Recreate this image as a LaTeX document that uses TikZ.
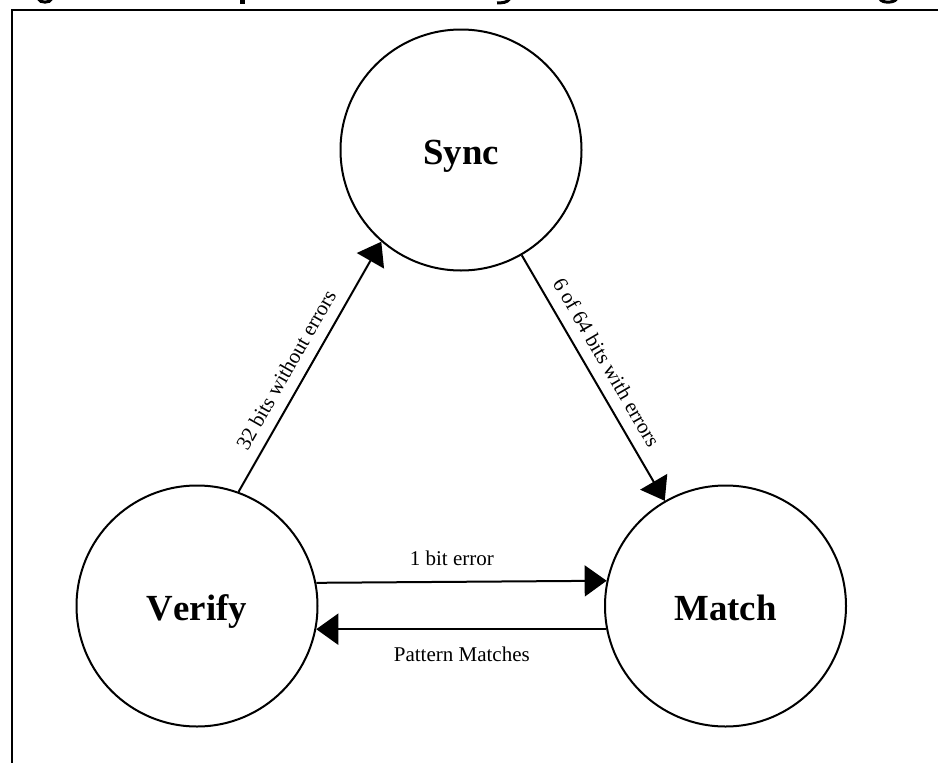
\documentclass[tikz,border=0pt]{standalone}
\usepackage{fontspec}
\setmainfont{Liberation Serif}
\newfontfamily\statefont[Kerning=Off]{Liberation Serif}
\usetikzlibrary{arrows.meta}
\newcommand{\lowerby}[2]{\raisebox{-#1}[\height][\depth]{#2}}
\begin{document}
\begin{tikzpicture}[x=1pt,y=-1pt,
  state/.style={draw, circle, line width=2pt, minimum size=241pt, inner sep=0pt,
    font=\statefont\fontsize{36.8}{40}\selectfont\bfseries},
  conn/.style={line width=2pt, -{Triangle[length=22pt,width=31pt]}},
  lbl/.style={inner sep=0pt, font=\fontsize{21}{24}\selectfont},
  frag/.style={fill=black, draw=none}]
\useasboundingbox (0,0) rectangle (938,763);
% frame (cut off at right and bottom)
\draw[line width=2pt] (12,763) -- (12,9.5) -- (938,9.5);
% title fragments (descenders of cut-off title)
\draw[line width=3pt] (38.5,-1) .. controls (40,3.2) and (50,3.2) .. (51.5,-1);
\fill[frag] (239.5,-1) rectangle (245,4.3);
\draw[line width=3pt] (509.5,-1) .. controls (507,2.5) and (503,3) .. (497,2.8);
\draw[line width=3pt] (880,-1) .. controls (882,3.2) and (894,3.2) .. (896.5,-1);
% states
\node[state] (sync) at (461,150) {\lowerby{6.6pt}{Sync}};
\node[state] (verify) at (197,606) {\lowerby{5.4pt}{Verify}};
\node[state] (match) at (725.5,606) {\lowerby{2.3pt}{Match}};
% transitions
\draw[conn] (verify.70.8) -- node[lbl, sloped, above=11pt, pos=0.45] {32 bits without errors} (sync.229.6);
\draw[conn] (sync.300) -- node[lbl, sloped, above=11pt, pos=0.476] {6 of 64 bits with errors} (match.120.5);
\draw[conn] (verify.11.4) -- node[lbl, above=15pt, pos=0.467] {1 bit error} (match.168.6);
\draw[conn] (match.191.1) -- node[lbl, below=17pt, pos=0.498] {Pattern Matches} (verify.-11.1);
\end{tikzpicture}
\end{document}
